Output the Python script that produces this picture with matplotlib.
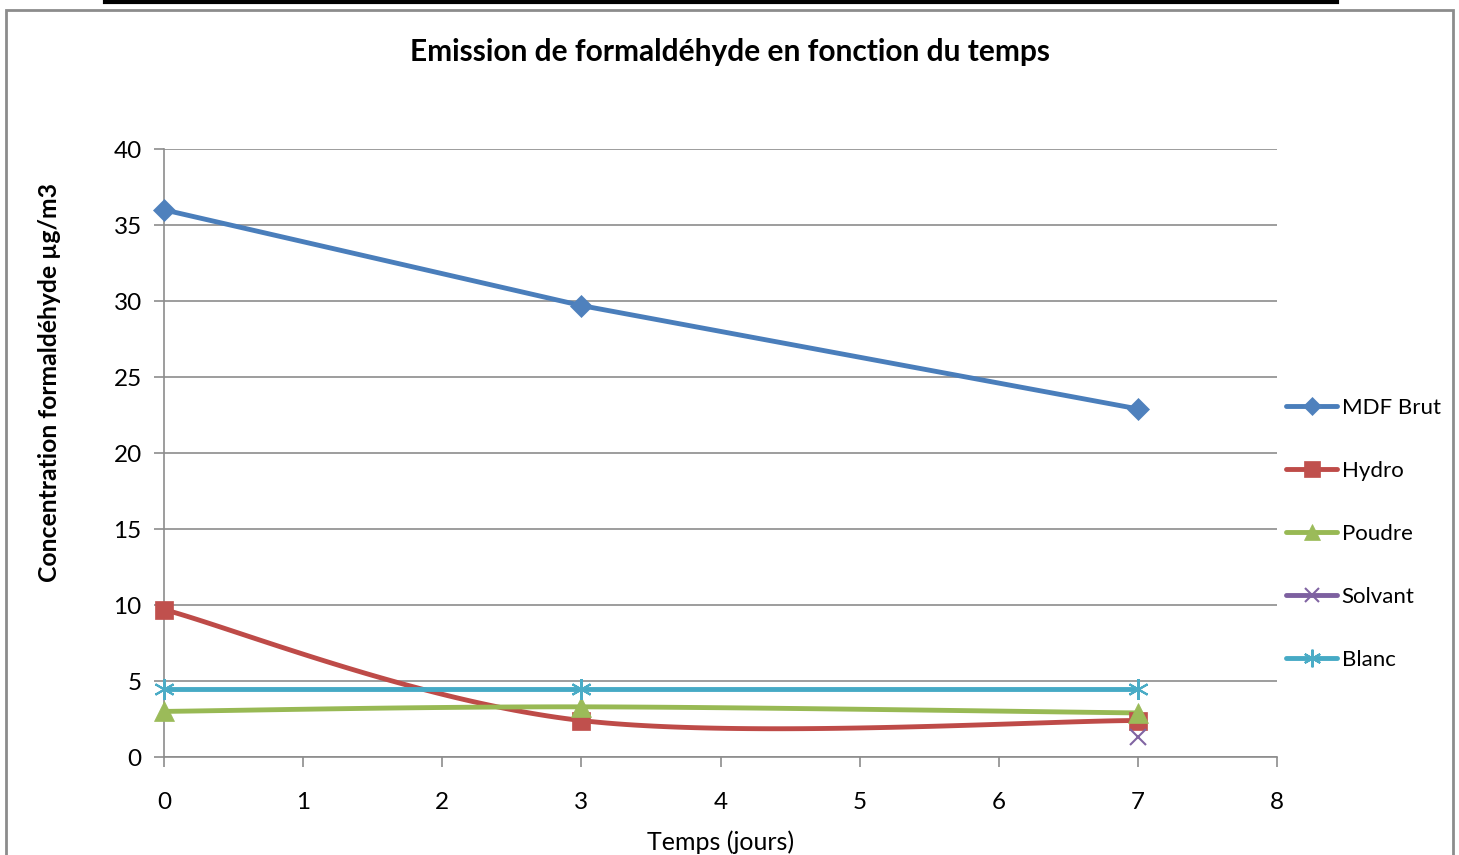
import numpy as np
import matplotlib.pyplot as plt
from matplotlib.lines import Line2D

plt.rcParams['font.family'] = ['Lato', 'DejaVu Sans']

# donnees
jours = [0, 3, 7]
mdf_brut = [36.0, 29.7, 22.9]
hydro = [9.7, 2.4, 2.4]
poudre = [3.0, 3.3, 2.9]
blanc = [4.5, 4.5, 4.5]
solvant_jours = [7]
solvant = [1.3]

series = [
    ('MDF Brut', jours, mdf_brut, '#4A7EBB', '#4F81BD', 'D', 11),
    ('Hydro', jours, hydro, '#BE4B48', '#C0504D', 's', 13),
    ('Poudre', jours, poudre, '#98B954', '#9BBB59', '^', 14),
    ('Solvant', solvant_jours, solvant, '#7D60A0', '#8064A2', 'x', 12),
    ('Blanc', jours, blanc, '#46AAC5', '#4BACC6', (6, 2, 0), 15),
]


def lissage(xs, ys, n=60):
    # courbe lissee facon Excel (bezier type catmull-rom)
    pts = np.column_stack([xs, ys]).astype(float)
    if len(pts) < 3:
        return pts[:, 0], pts[:, 1]
    p = np.vstack([pts[0], pts, pts[-1]])
    out = []
    t = np.linspace(0, 1, n)[:, None]
    for i in range(1, len(p) - 2):
        p0, p1, p2, p3 = p[i - 1], p[i], p[i + 1], p[i + 2]
        c1 = p1 + (p2 - p0) / 6
        c2 = p2 - (p3 - p1) / 6
        b = (1 - t) ** 3 * p1 + 3 * (1 - t) ** 2 * t * c1 + 3 * (1 - t) * t ** 2 * c2 + t ** 3 * p2
        out.append(b)
    out = np.vstack(out)
    return out[:, 0], out[:, 1]


fig = plt.figure(figsize=(14.59, 8.55), dpi=100)
ax = fig.add_axes([164 / 1459, 1 - 757 / 855, (1277 - 164) / 1459, (757 - 149) / 855])

handles = []
for nom, xs, ys, lc, mc, mk, ms in series:
    if nom in ('Hydro', 'Poudre'):
        sx, sy = lissage(xs, ys)
    else:
        sx, sy = xs, ys
    if len(xs) > 1:
        ax.plot(sx, sy, color=lc, linewidth=3.5, solid_capstyle='round', zorder=3)
    mew = 1.5 if mk in ('x', (6, 2, 0)) else 0.5
    ax.plot(xs, ys, linestyle='none', marker=mk, markersize=ms, color=mc,
            markeredgecolor=mc, markeredgewidth=mew, zorder=4, clip_on=False)
    handles.append(Line2D([], [], color=lc, linewidth=3.5, marker=mk,
                          markersize=ms * 0.85, markerfacecolor=mc, markeredgecolor=mc,
                          markeredgewidth=mew, solid_capstyle='round'))

ax.set_xlim(0, 8)
ax.set_ylim(0, 40)
ax.set_xticks(range(0, 9))
ax.set_yticks(range(0, 41, 5))
ax.grid(axis='y', color='#8C8C8C', linewidth=1.2)
ax.set_axisbelow(True)
for s in ('top', 'right'):
    ax.spines[s].set_visible(False)
for s in ('left', 'bottom'):
    ax.spines[s].set_color('#8C8C8C')
    ax.spines[s].set_linewidth(1.2)
ax.tick_params(axis='both', direction='out', color='#8C8C8C', width=1.2, length=7,
               labelsize=17.5, colors='#8C8C8C', labelcolor='black')
ax.tick_params(axis='x', pad=18)
ax.tick_params(axis='y', pad=9)

ax.set_xlabel('Temps (jours)', fontsize=18, labelpad=13)
fig.text(50 / 1459, 1 - 383 / 855, 'Concentration formaldéhyde µg/m3', rotation=90,
         fontsize=17.8, fontweight='bold', ha='center', va='center')
fig.text(730 / 1459, 1 - 52 / 855, 'Emission de formaldéhyde en fonction du temps',
         fontsize=21.5, fontweight='bold', ha='center', va='center')

fig.legend(handles, [s[0] for s in series], loc='upper left',
           bbox_to_anchor=(1286 / 1459, 1 - 398 / 855), frameon=False,
           fontsize=16, handlelength=2.3, handletextpad=0.2, labelspacing=1.93,
           borderaxespad=0, borderpad=0)

# cadre du graphique et trait du document
fig.add_artist(plt.Rectangle((6 / 1459, -0.01), 1447 / 1459, 1 - 10 / 855 + 0.01,
                             transform=fig.transFigure, fill=False,
                             edgecolor='#8C8C8C', linewidth=2))
fig.add_artist(Line2D([105 / 1459, 1337 / 1459], [1 - 2 / 855, 1 - 2 / 855],
                      transform=fig.transFigure, color='black', linewidth=3))

fig.savefig('out.png', dpi=100)
